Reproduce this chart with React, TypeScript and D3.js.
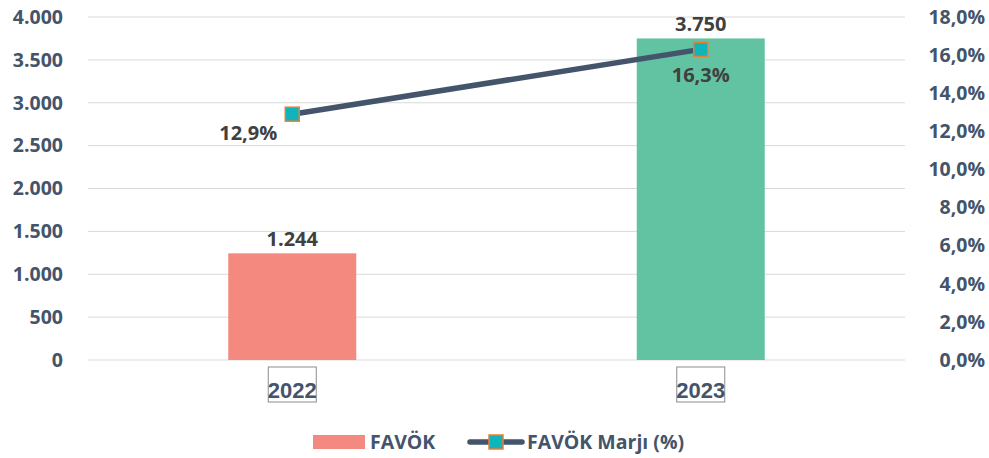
import React, { useEffect, useRef } from "react";
import * as d3 from "d3";

const years = ["2022", "2023"];
const favok = [1244, 3750];
const marj = [12.9, 16.3];
const barColors = ["#F4897F", "#62C3A2"];
const leftTicks = [0, 500, 1000, 1500, 2000, 2500, 3000, 3500, 4000];
const rightTicks = [0, 2, 4, 6, 8, 10, 12, 14, 16, 18];

const FONT = "'Open Sans', sans-serif";
const TXT = "#44546A";

export default function App() {
  const ref = useRef<SVGSVGElement>(null);

  useEffect(() => {
    const svg = d3.select(ref.current);
    svg.selectAll("*").remove();

    const x0 = 88, x1 = 905, yTop = 17, yBot = 360;

    const xScale = d3.scaleBand().domain(years).range([x0, x1]);
    const yLeft = d3.scaleLinear().domain([0, 4000]).range([yBot, yTop]);
    const yRight = d3.scaleLinear().domain([0, 18]).range([yBot, yTop]);
    const fmtNum = (v: number) => d3.format(",")(v).replace(/,/g, ".");
    const fmtPct = (v: number) => v.toFixed(1).replace(".", ",") + "%";

    // gridlines
    svg.append("g")
      .selectAll("line")
      .data(leftTicks)
      .join("line")
      .attr("x1", x0).attr("x2", x1)
      .attr("y1", (d) => yLeft(d)).attr("y2", (d) => yLeft(d))
      .attr("stroke", "#D9D9D9").attr("stroke-width", 1);

    // left labels
    svg.append("g")
      .selectAll("text")
      .data(leftTicks)
      .join("text")
      .attr("x", 63).attr("y", (d) => yLeft(d))
      .attr("dy", "0.35em")
      .attr("text-anchor", "end")
      .attr("font-family", FONT).attr("font-weight", 700).attr("font-size", 19.5)
      .attr("fill", TXT)
      .text((d) => fmtNum(d));

    // right labels
    svg.append("g")
      .selectAll("text")
      .data(rightTicks)
      .join("text")
      .attr("x", 985).attr("y", (d) => yRight(d))
      .attr("dy", "0.35em")
      .attr("text-anchor", "end")
      .attr("font-family", FONT).attr("font-weight", 700).attr("font-size", 19.5)
      .attr("fill", TXT)
      .text((d) => fmtPct(d));

    // bars
    const bw = 128;
    svg.append("g")
      .selectAll("rect")
      .data(favok)
      .join("rect")
      .attr("x", (d, i) => xScale(years[i])! + xScale.bandwidth() / 2 - bw / 2)
      .attr("y", (d) => yLeft(d))
      .attr("width", bw)
      .attr("height", (d) => yBot - yLeft(d))
      .attr("fill", (d, i) => barColors[i]);

    // bar value labels
    svg.append("g")
      .selectAll("text")
      .data(favok)
      .join("text")
      .attr("x", (d, i) => xScale(years[i])! + xScale.bandwidth() / 2)
      .attr("y", (d) => yLeft(d) - 7)
      .attr("text-anchor", "middle")
      .attr("font-family", FONT).attr("font-weight", 700).attr("font-size", 20)
      .attr("fill", "#404040")
      .text((d) => fmtNum(d));

    // x axis labels with boxes
    const xl = svg.append("g")
      .selectAll("g")
      .data(years)
      .join("g")
      .attr("transform", (d) => `translate(${xScale(d)! + xScale.bandwidth() / 2},0)`);
    xl.append("rect")
      .attr("x", -24).attr("y", 367).attr("width", 48).attr("height", 35)
      .attr("fill", "white").attr("stroke", "#8C8C8C").attr("stroke-width", 1);
    xl.append("text")
      .attr("y", 398)
      .attr("text-anchor", "middle")
      .attr("font-family", "'Liberation Sans Narrow', sans-serif")
      .attr("font-weight", 700).attr("font-size", 22)
      .attr("fill", TXT)
      .text((d) => d);

    // line
    const pts = marj.map((v, i) => [xScale(years[i])! + xScale.bandwidth() / 2, yRight(v)] as [number, number]);
    svg.append("path")
      .attr("d", d3.line()(pts))
      .attr("fill", "none")
      .attr("stroke", "#44546A")
      .attr("stroke-width", 5.5)
      .attr("stroke-linecap", "round");

    svg.append("g")
      .selectAll("rect")
      .data(pts)
      .join("rect")
      .attr("x", (d) => d[0] - 7).attr("y", (d) => d[1] - 7)
      .attr("width", 14).attr("height", 14)
      .attr("fill", "#0FB5BA").attr("stroke", "#ED7D31").attr("stroke-width", 1.5);

    // line labels
    const lblPos = [
      { dx: -44, dy: 26 },
      { dx: 0, dy: 33 },
    ];
    svg.append("g")
      .selectAll("text")
      .data(marj)
      .join("text")
      .attr("x", (d, i) => pts[i][0] + lblPos[i].dx)
      .attr("y", (d, i) => pts[i][1] + lblPos[i].dy)
      .attr("text-anchor", "middle")
      .attr("font-family", FONT).attr("font-weight", 700).attr("font-size", 20)
      .attr("fill", "#404040")
      .text((d) => fmtPct(d));

    // legend
    const lg = svg.append("g").attr("transform", "translate(0,442)");
    lg.append("rect").attr("x", 313).attr("y", -7).attr("width", 52).attr("height", 14).attr("fill", barColors[0]);
    lg.append("text").attr("x", 370).attr("dy", "0.35em")
      .attr("font-family", FONT).attr("font-weight", 700).attr("font-size", 19.5)
      .attr("fill", TXT).text("FAVÖK");
    lg.append("line").attr("x1", 470).attr("x2", 522).attr("y1", 0).attr("y2", 0)
      .attr("stroke", "#44546A").attr("stroke-width", 5.5).attr("stroke-linecap", "round");
    lg.append("rect").attr("x", 489).attr("y", -7).attr("width", 14).attr("height", 14)
      .attr("fill", "#0FB5BA").attr("stroke", "#ED7D31").attr("stroke-width", 1.5);
    lg.append("text").attr("x", 527).attr("dy", "0.35em")
      .attr("font-family", FONT).attr("font-weight", 700).attr("font-size", 19.5)
      .attr("fill", TXT).text("FAVÖK Marjı (%)");
  }, []);

  return (
    <svg
      ref={ref}
      width={989}
      height={458}
      style={{ position: "absolute", left: 0, top: 0, background: "white" }}
    />
  );
}
